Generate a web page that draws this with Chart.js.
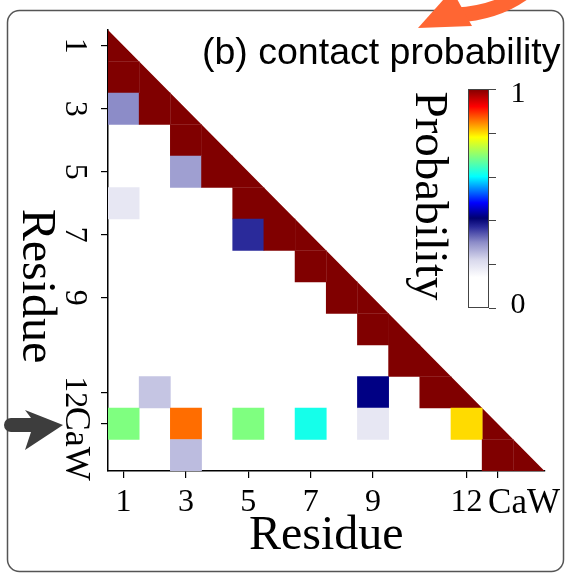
<!DOCTYPE html>
<html>
<head>
<meta charset="utf-8">
<script src="https://cdn.jsdelivr.net/npm/chart.js@4.4.1/dist/chart.umd.min.js"></script>
<style>
  html, body { margin: 0; padding: 0; background: #fff; }
</style>
</head>
<body>
<canvas id="myChart" width="567" height="576"></canvas>
<script>
const residues = ['1', '2', '3', '4', '5', '6', '7', '8', '9', '10', '11', '12', 'Ca', 'W'];
const tickResidues = [1, 3, 5, 7, 9, 12, 13];
const tickLabels = ['1', '3', '5', '7', '9', '12', 'CaW'];

// off-diagonal contacts: row residue, column residue, probability
const contactRow  = [2, 3, 3, 4, 5, 5, 6, 6, 7, 7, 8, 9, 10, 11, 12, 12, 12, 13, 13, 13, 13, 13, 13, 14, 14];
const contactCol  = [1, 1, 2, 3, 3, 4, 1, 5, 5, 6, 7, 8, 9, 10, 2, 9, 11, 1, 3, 5, 7, 9, 12, 3, 13];
const contactProb = [1, 0.30, 1, 1, 0.28, 1, 0.19, 1, 0.37, 1, 1, 1, 1, 1, 0.24, 0.42, 1, 0.69, 0.86, 0.69, 0.615, 0.19, 0.80, 0.25, 1];
const selfProb = 1;

// colour map of the colour bar
const cmapStops  = [0, 0.14, 0.22, 0.30, 0.37, 0.41, 0.48, 0.60, 0.78, 0.92, 1];
const cmapColors = ['#ffffff', '#ffffff', '#d8d8ec', '#8c8cc8', '#2a2a9a', '#000070', '#0000ff', '#00ffff', '#ffff00', '#ff0000', '#800000'];
const cbarTicks = [0, 0.2, 0.4, 0.6, 0.8, 1];
const cbarLabels = ['0', '', '', '', '', '1'];

function hexToRgb(h) {
    const n = parseInt(h.slice(1), 16);
    return [(n >> 16) & 255, (n >> 8) & 255, n & 255];
}

function probColor(p) {
    for (let i = 1; i < cmapStops.length; i++) {
        if (p <= cmapStops[i]) {
            const t = (p - cmapStops[i - 1]) / (cmapStops[i] - cmapStops[i - 1]);
            const a = hexToRgb(cmapColors[i - 1]);
            const b = hexToRgb(cmapColors[i]);
            const c = a.map((v, k) => Math.round(v + (b[k] - v) * t));
            return 'rgb(' + c.join(',') + ')';
        }
    }
    return cmapColors[cmapColors.length - 1];
}

const cells = contactRow.map((r, k) => ({ x: contactCol[k], y: [r - 0.5, r + 0.5] }));
const cellColors = contactProb.map(probColor);

// self contacts: lower-left half of each diagonal cell, as one closed shape
const n = residues.length;
const diagonal = [{ x: 0.5, y: 0.5 }, { x: n + 0.5, y: n + 0.5 }];
for (let i = n; i >= 1; i--) {
    diagonal.push({ x: i - 0.5, y: i + 0.5 });
    diagonal.push({ x: i - 0.5, y: i - 0.5 });
}

function setTicks(scale) {
    scale.ticks = tickResidues.map(v => ({ value: v }));
}

const serif = '"Liberation Serif", "Times New Roman", serif';

const decorations = {
    id: 'decorations',
    beforeDraw(chart) {
        const ctx = chart.ctx;
        ctx.save();
        ctx.fillStyle = '#fff';
        ctx.fillRect(0, 0, chart.width, chart.height);
        ctx.strokeStyle = '#555';
        ctx.lineWidth = 1.5;
        ctx.beginPath();
        ctx.roundRect(7.5, 10.5, 556, 561, 12);
        ctx.stroke();
        ctx.restore();
    },
    afterDraw(chart) {
        const ctx = chart.ctx;
        const yScale = chart.scales.y;
        ctx.save();
        ctx.fillStyle = '#000';

        // y tick labels, turned clockwise
        ctx.textBaseline = 'alphabetic';
        yScale.ticks.forEach(t => {
            const label = tickLabels[tickResidues.indexOf(t.value)];
            const py = yScale.getPixelForValue(t.value);
            ctx.save();
            ctx.translate(66, py);
            ctx.rotate(Math.PI / 2);
            if (label === 'CaW') {
                ctx.font = '36px ' + serif;
                ctx.textAlign = 'left';
                ctx.fillText(label, -17, 0);
            } else {
                ctx.font = '32px ' + serif;
                ctx.textAlign = 'center';
                ctx.fillText(label, 0, 0);
            }
            ctx.restore();
        });

        // y axis title
        ctx.save();
        ctx.font = '48px ' + serif;
        ctx.translate(23, 286);
        ctx.rotate(Math.PI / 2);
        ctx.textAlign = 'center';
        ctx.fillText('Residue', 0, 0);
        ctx.restore();

        // panel title
        ctx.font = '37.5px "Liberation Sans", Arial, sans-serif';
        ctx.textAlign = 'left';
        ctx.fillText('(b) contact probability', 202, 64);

        // colour bar
        const cb = { x: 468, y: 89, w: 21, h: 219 };
        const grad = ctx.createLinearGradient(0, cb.y + cb.h, 0, cb.y);
        cmapStops.forEach((s, i) => grad.addColorStop(s, cmapColors[i]));
        ctx.fillStyle = grad;
        ctx.fillRect(cb.x, cb.y, cb.w, cb.h);
        ctx.strokeStyle = '#444';
        ctx.lineWidth = 1;
        ctx.strokeRect(cb.x + 0.5, cb.y + 0.5, cb.w - 1, cb.h - 1);
        ctx.beginPath();
        cbarTicks.forEach(v => {
            const ty = Math.round(cb.y + cb.h - v * cb.h) + 0.5;
            ctx.moveTo(cb.x + cb.w, ty);
            ctx.lineTo(cb.x + cb.w + 7, ty);
        });
        ctx.stroke();
        ctx.fillStyle = '#000';
        ctx.font = '30px ' + serif;
        ctx.textAlign = 'center';
        cbarTicks.forEach((v, i) => {
            if (!cbarLabels[i]) return;
            const ty = cb.y + cb.h - v * cb.h;
            ctx.fillText(cbarLabels[i], 518, ty + (v === 1 ? 13 : 5));
        });
        ctx.save();
        ctx.font = '47px ' + serif;
        ctx.translate(416, 196);
        ctx.rotate(Math.PI / 2);
        ctx.fillText('Probability', 0, 0);
        ctx.restore();

        // left marker arrow
        ctx.fillStyle = '#3d3d3d';
        ctx.beginPath();
        ctx.moveTo(11, 418);
        ctx.lineTo(31, 418);
        ctx.lineTo(25, 410);
        ctx.lineTo(63, 425);
        ctx.lineTo(25, 450);
        ctx.lineTo(31, 432);
        ctx.lineTo(11, 432);
        ctx.arc(11, 425, 7, Math.PI / 2, Math.PI * 1.5);
        ctx.closePath();
        ctx.fill();

        // orange arrow at the top
        ctx.strokeStyle = '#ff6633';
        ctx.fillStyle = '#ff6633';
        ctx.lineWidth = 15;
        ctx.beginPath();
        ctx.moveTo(456, 15);
        ctx.quadraticCurveTo(500, 13, 530, -12);
        ctx.stroke();
        ctx.beginPath();
        ctx.moveTo(418, 28);
        ctx.lineTo(452, -10);
        ctx.lineTo(472, 26);
        ctx.closePath();
        ctx.fill();
        ctx.restore();
    }
};

const ctx = document.getElementById('myChart').getContext('2d');
const myChart = new Chart(ctx, {
    type: 'bar',
    data: {
        datasets: [
            {
                type: 'bar',
                data: cells,
                backgroundColor: cellColors,
                borderWidth: 0,
                barPercentage: 1,
                categoryPercentage: 1,
                grouped: false
            },
            {
                type: 'line',
                data: diagonal,
                backgroundColor: probColor(selfProb),
                borderWidth: 0,
                pointRadius: 0,
                pointHoverRadius: 0,
                tension: 0,
                fill: 'shape'
            }
        ]
    },
    options: {
        responsive: false,
        animation: false,
        layout: { padding: { left: 0, top: 30, right: 19, bottom: 0 } },
        plugins: {
            legend: { display: false },
            tooltip: { enabled: false }
        },
        scales: {
            x: {
                type: 'linear',
                min: 0.5,
                max: n + 0.5,
                offset: false,
                beginAtZero: false,
                grid: { offset: false, drawOnChartArea: false, drawTicks: true, tickLength: 7, color: '#000', lineWidth: 1.2 },
                border: { color: '#000', width: 1.5 },
                ticks: {
                    autoSkip: false,
                    maxRotation: 0,
                    padding: 5,
                    color: '#000',
                    font: (c) => ({ family: serif, size: c.tick && c.tick.value === 13 ? 35 : 32 }),
                    callback: (v) => {
                        const label = tickLabels[tickResidues.indexOf(v)];
                        return label === 'CaW' ? '      CaW' : label;
                    }
                },
                title: {
                    display: true,
                    text: 'Residue',
                    color: '#000',
                    font: { family: serif, size: 48 },
                    padding: { top: 0, bottom: 11 }
                },
                afterBuildTicks: setTicks,
                afterFit: (s) => { s.height = 105; }
            },
            y: {
                type: 'linear',
                reverse: true,
                min: 0.5,
                max: n + 0.5,
                beginAtZero: false,
                grid: { drawOnChartArea: false, drawTicks: true, tickLength: 7, color: '#000', lineWidth: 1.2 },
                border: { color: '#000', width: 1.5 },
                ticks: { display: false },
                afterBuildTicks: setTicks,
                afterFit: (s) => { s.width = 108; }
            }
        }
    },
    plugins: [decorations]
});
</script>
</body>
</html>
